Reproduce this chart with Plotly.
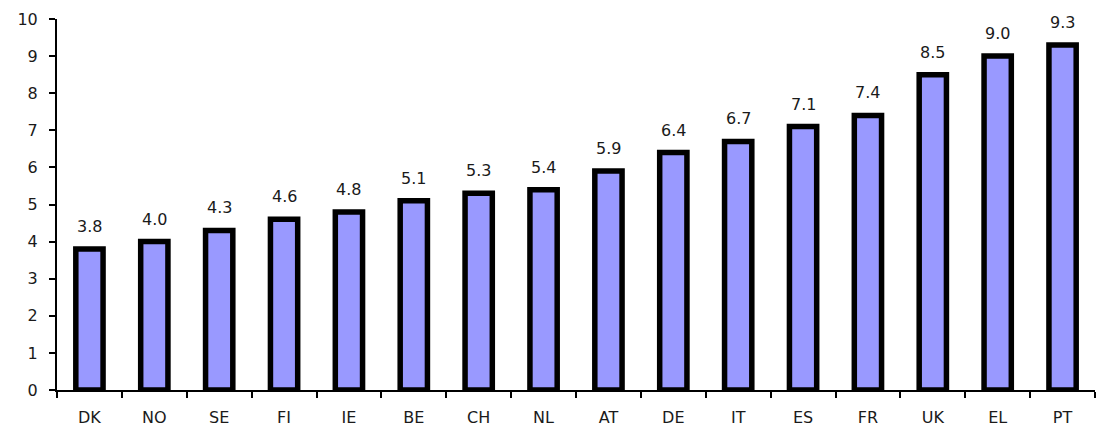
import plotly.graph_objects as go

countries = ["DK", "NO", "SE", "FI", "IE", "BE", "CH", "NL", "AT", "DE",
             "IT", "ES", "FR", "UK", "EL", "PT"]
values = [3.8, 4.0, 4.3, 4.6, 4.8, 5.1, 5.3, 5.4, 5.9, 6.4,
          6.7, 7.1, 7.4, 8.5, 9.0, 9.3]
y_ticks = list(range(0, 11))

font = "DejaVu Sans, Verdana, sans-serif"
text_color = "#1a1a1a"

fig = go.Figure(
    go.Bar(
        x=countries,
        y=values,
        width=0.42,
        marker=dict(color="#9999FF", line=dict(color="black", width=5.5)),
        hoverinfo="x+y",
    )
)

# value labels sitting a little above each bar
for c, v in zip(countries, values):
    fig.add_annotation(
        x=c, y=v, text=f"{v:.1f}", showarrow=False,
        yanchor="bottom", yshift=11,
        font=dict(family=font, size=16, color=text_color),
    )

fig.update_layout(
    width=1106,
    height=439,
    margin=dict(l=57, r=11, t=19, b=49),
    paper_bgcolor="white",
    plot_bgcolor="white",
    showlegend=False,
    xaxis=dict(
        type="category",
        showline=True,
        linecolor="black",
        linewidth=2,
        ticks="outside",
        tickson="boundaries",
        ticklen=6,
        tickwidth=1.5,
        tickcolor="black",
        showgrid=False,
        ticklabelstandoff=12,
        tickfont=dict(family=font, size=16, color=text_color),
    ),
    yaxis=dict(
        range=[0, 10],
        tickvals=y_ticks,
        showline=True,
        linecolor="black",
        linewidth=2,
        ticks="outside",
        ticklen=6,
        tickwidth=1.5,
        tickcolor="black",
        showgrid=False,
        zeroline=False,
        ticklabelstandoff=8,
        tickfont=dict(family=font, size=16, color=text_color),
    ),
)

fig.write_html("out.html")
